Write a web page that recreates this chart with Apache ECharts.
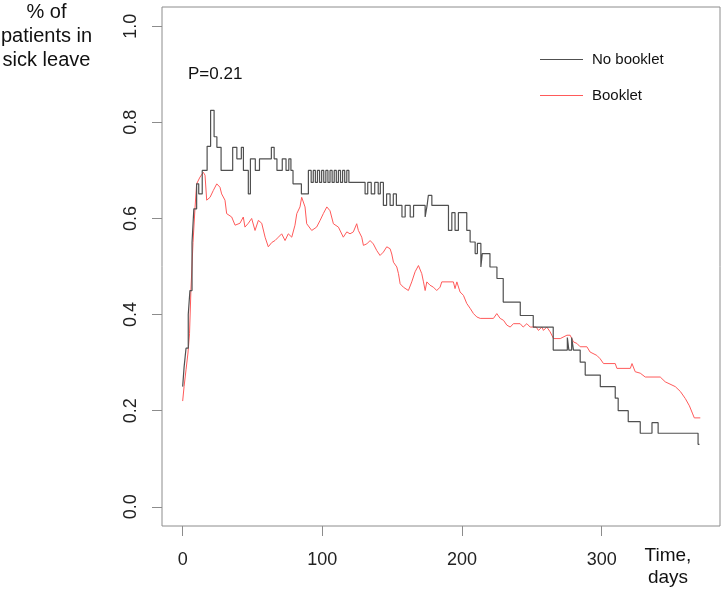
<!DOCTYPE html>
<html>
<head>
<meta charset="utf-8">
<script src="https://cdn.jsdelivr.net/npm/echarts/dist/echarts.min.js"></script>
<style>html,body{margin:0;padding:0;background:#fff;}#c{width:723px;height:592px;}</style>
</head>
<body>
<div id="c"></div>
<script>
// Series names
const seriesNames = ['No booklet', 'Booklet'];
// No booklet (step curve): day, proportion
const noBookletDays = [0,1,2.4,4,5.2,6.7,8,10,11.5,14,17.5,20,22.5,24.5,27.5,35.8,38.8,42,43.5,47,48.5,52,55,63.5,65.5,67.5,71.3,74,76,77.5,79,85,90,92,93.5,95,96.5,98,99.5,101,102.5,104,105.5,107,108.5,110,111.5,113,114.5,116,117.5,119,130.6,132.5,135,137.5,140,141.5,143.7,146,148.5,150.8,153,157,159.3,162.9,165.3,173.6,175,175.9,178.4,190.3,192.7,195,197.4,203.4,205.8,209.4,211,213.5,214.5,220,225,229.5,241.7,251,265.3,275.4,276.5,278.5,279.8,284.6,288.2,299,309.7,311.8,319,327.6,336,340.4,369,370];
const noBookletVals = [0.25,0.29,0.33,0.40,0.45,0.55,0.62,0.672,0.651,0.70,0.75,0.825,0.77,0.748,0.70,0.748,0.724,0.748,0.70,0.651,0.724,0.70,0.724,0.748,0.724,0.70,0.724,0.70,0.724,0.70,0.672,0.651,0.70,0.675,0.70,0.675,0.70,0.675,0.70,0.675,0.70,0.675,0.70,0.675,0.70,0.675,0.70,0.675,0.70,0.675,0.70,0.675,0.651,0.675,0.651,0.675,0.651,0.675,0.627,0.651,0.627,0.651,0.627,0.603,0.627,0.603,0.627,0.603,0.627,0.648,0.627,0.575,0.612,0.575,0.612,0.575,0.551,0.527,0.548,0.499,0.527,0.499,0.475,0.426,0.398,0.374,0.326,0.352,0.326,0.352,0.326,0.301,0.274,0.25,0.226,0.20,0.177,0.153,0.175,0.153,0.13,0.13];
// Booklet: day, proportion
const bookletDays = [0,1,2.4,3.8,4.9,5.9,7.4,8.8,10,12.4,14.8,16,17.2,19.6,21.9,24.4,26.7,27.9,30.3,31.5,35.1,37.5,41,43.4,44.6,47,49.4,51.8,54.2,56.6,59,61.3,63.8,66.1,68.5,70.9,73.3,75.6,78.1,80.4,81.7,84,85.2,87.6,88.8,92.4,95.9,98.4,100.7,103.2,105.5,107.9,111.5,115,117.5,119.8,122.2,124.6,125.8,128.2,129.4,131.8,134.2,136.5,139,141.3,143.7,146.1,148.5,149.7,150.9,153.3,154.5,155.7,158,161.6,164,166.4,168.8,171.2,172.4,173.6,174.8,177.1,179.5,181.9,184.3,185.5,193.8,195,196.3,197.4,198.6,201,203.4,205.8,208.2,210.6,213,222.5,224.9,227.3,229.7,232.1,234.5,236.8,241.6,243.8,246.4,248.8,253.1,254.7,257.2,258.3,260.7,263.1,265.5,270.3,275.1,277.4,279.8,282.2,284.6,289.4,291.7,296.5,298.9,301.3,309.7,310.9,320.5,321.7,324,327.6,331.2,341.9,345.5,352.7,356.3,359.9,362.8,364.9,366.3,370.6];
const bookletVals = [0.22,0.25,0.285,0.32,0.36,0.45,0.55,0.62,0.672,0.686,0.696,0.69,0.638,0.644,0.658,0.672,0.665,0.651,0.638,0.61,0.603,0.586,0.59,0.603,0.582,0.59,0.60,0.575,0.596,0.59,0.561,0.541,0.55,0.554,0.561,0.568,0.554,0.568,0.561,0.586,0.61,0.624,0.644,0.624,0.589,0.575,0.582,0.596,0.61,0.624,0.616,0.589,0.582,0.561,0.572,0.568,0.572,0.589,0.575,0.561,0.544,0.547,0.554,0.547,0.533,0.523,0.53,0.541,0.537,0.526,0.509,0.499,0.485,0.464,0.457,0.45,0.468,0.489,0.502,0.485,0.468,0.45,0.468,0.461,0.457,0.45,0.457,0.468,0.468,0.454,0.468,0.468,0.447,0.44,0.423,0.413,0.402,0.395,0.392,0.392,0.402,0.392,0.388,0.378,0.374,0.381,0.381,0.374,0.381,0.374,0.374,0.367,0.374,0.367,0.374,0.364,0.35,0.35,0.357,0.357,0.343,0.34,0.333,0.333,0.322,0.315,0.308,0.298,0.298,0.288,0.288,0.298,0.281,0.278,0.27,0.27,0.26,0.25,0.24,0.225,0.21,0.195,0.185,0.185];
// Tick labels
const xTicks = [0, 100, 200, 300];
const yTicks = [0, 0.2, 0.4, 0.6, 0.8, 1.0];

const FONT = '"Liberation Sans", Arial, Helvetica, sans-serif';
const zip = (a, b) => a.map((d, i) => [d, b[i]]);

const chart = echarts.init(document.getElementById('c'), null, {renderer: 'canvas'});
chart.setOption({
  animation: false,
  backgroundColor: '#fff',
  grid: {left: 162, right: 3, top: 7, bottom: 66, show: true, borderColor: '#8c8c8c', borderWidth: 1, containLabel: false},
  xAxis: {
    type: 'value', min: -14.8, max: 384.7,
    axisLine: {show: false, onZero: false},
    splitLine: {show: false},
    axisTick: {show: true, length: 10, inside: false, customValues: xTicks, lineStyle: {color: '#8c8c8c'}},
    axisLabel: {customValues: xTicks, margin: 25, color: '#222', fontSize: 18, fontFamily: FONT}
  },
  yAxis: {
    type: 'value', min: -0.04, max: 1.04,
    axisLine: {show: false, onZero: false},
    splitLine: {show: false},
    axisTick: {show: true, length: 10, inside: false, customValues: yTicks, lineStyle: {color: '#8c8c8c'}},
    axisLabel: {customValues: yTicks, rotate: 90, margin: 22, color: '#222', fontSize: 18, fontFamily: FONT,
      formatter: v => v.toFixed(1)}
  },
  legend: {
    orient: 'vertical', left: 540, top: 52, padding: 0, itemWidth: 43, itemHeight: 1, itemGap: 21, icon: 'rect',
    textStyle: {fontSize: 15, fontFamily: FONT, color: '#111', padding: [0, 0, 0, 4]},
    data: seriesNames
  },
  graphic: [
    {type: 'text', x: 46.5, y: 36, style: {text: '% of\npatients in\nsick leave', font: '20px ' + FONT, fill: '#111', textAlign: 'center', textVerticalAlign: 'middle', lineHeight: 24}},
    {type: 'text', x: 668, y: 567, style: {text: 'Time,\ndays', font: '19px ' + FONT, fill: '#111', textAlign: 'center', textVerticalAlign: 'middle', lineHeight: 22}},
    {type: 'text', x: 188, y: 74, style: {text: 'P=0.21', font: '17px ' + FONT, fill: '#111', textAlign: 'left', textVerticalAlign: 'middle'}}
  ],
  series: [
    {name: seriesNames[0], type: 'line', step: 'end', showSymbol: false, symbol: 'none',
     data: zip(noBookletDays, noBookletVals), itemStyle: {color: '#505050'}, lineStyle: {color: '#505050', width: 1.2}, z: 3},
    {name: seriesNames[1], type: 'line', showSymbol: false, symbol: 'none',
     data: zip(bookletDays, bookletVals), itemStyle: {color: '#ff5a5a'}, lineStyle: {color: '#ff5a5a', width: 1}, z: 2}
  ]
});
</script>
</body>
</html>
